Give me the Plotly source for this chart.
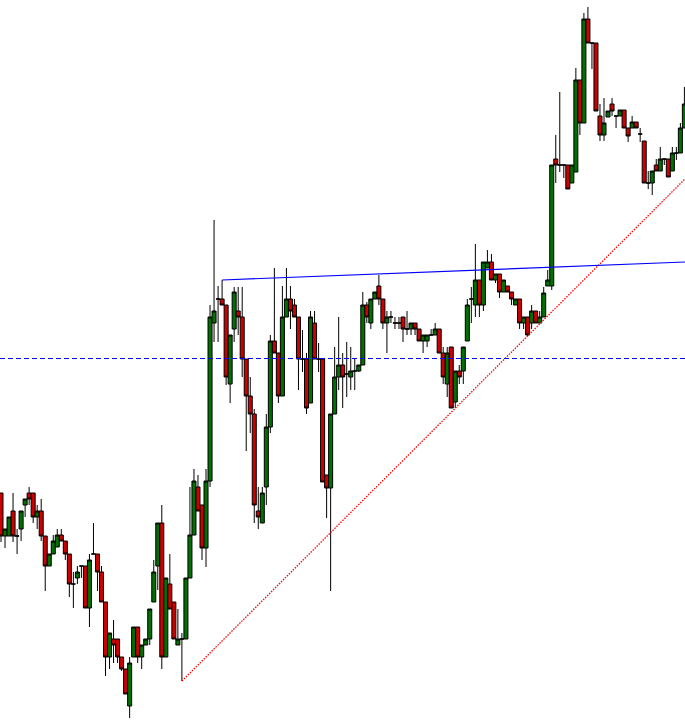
import plotly.graph_objects as go

# Candle index (one bar per period)
bar_index = list(range(171))

# OHLC values (price units)
opens = [232,189,189,214,189,196,220,232,232,208,214,189,159,171,178,190,184,171,141,147,
         159,159,117,171,171,153,123,68,86,86,68,56,19,68,98,68,80,86,123,159,
         202,68,141,123,80,86,86,147,190,238,220,177,244,402,426,426,420,341,396,414,
         408,366,329,311,214,202,238,298,384,372,329,408,426,420,408,366,366,322,402,366,
         366,250,237,311,348,360,351,348,354,354,360,420,402,426,439,426,402,408,402,402,
         408,396,396,402,396,384,384,390,390,396,372,341,378,323,354,354,384,426,420,445,
         420,457,463,445,451,433,439,433,420,426,402,408,402,414,402,408,439,439,566,560,
         560,560,542,553,645,602,706,682,682,609,590,608,621,609,609,615,597,597,603,591,
         584,542,542,560,554,566,566,554,572,572,597]
highs = [232,196,208,232,196,214,226,238,232,220,226,189,171,190,196,196,184,171,153,159,
         159,159,171,202,171,159,123,92,105,86,68,56,68,98,98,80,86,116,165,202,
         220,147,171,123,116,92,147,238,256,250,220,256,420,505,439,445,420,390,438,438,
         438,366,348,316,238,238,311,390,457,372,439,457,439,426,408,395,372,414,414,382,
         366,250,311,378,408,372,383,378,366,360,433,423,426,433,450,426,414,414,408,408,
         408,414,402,402,396,390,390,396,402,396,378,378,378,354,360,378,426,438,481,445,
         463,475,471,451,451,445,439,433,426,426,408,408,420,414,414,438,455,560,590,633,
         560,560,560,657,645,712,718,682,682,621,627,614,627,609,615,615,597,609,603,597,
         584,554,554,566,578,566,566,578,578,602,638]
lows = [183,177,189,183,171,184,208,220,202,196,184,134,159,171,178,184,165,128,117,141,
        147,117,98,171,134,123,49,56,62,62,54,31,7,68,62,56,80,80,123,135,
        56,68,116,86,80,44,86,147,190,214,165,158,238,383,383,420,340,322,383,390,
        348,274,292,202,196,202,220,292,372,322,329,408,396,408,335,353,311,322,366,353,
        243,207,134,311,335,317,328,335,335,353,360,402,396,426,420,396,372,402,396,396,
        383,390,390,390,384,372,378,390,390,372,341,328,317,317,341,341,384,402,408,408,
        414,457,445,442,427,433,433,420,420,396,396,389,396,402,402,408,439,435,542,553,
        547,536,542,553,590,602,682,656,614,584,584,608,609,597,609,597,583,597,597,583,
        542,536,530,554,554,560,548,554,565,572,597]
closes = [189,196,208,189,189,214,226,226,208,214,189,159,171,184,190,184,171,141,141,153,
          159,117,165,171,153,123,68,92,80,68,56,31,62,98,68,80,86,116,153,202,
          68,147,116,86,86,86,147,190,244,214,177,244,408,414,426,420,348,390,433,408,
          366,329,311,220,208,232,298,384,372,329,408,426,414,408,366,366,317,408,366,366,
          243,237,311,348,360,348,351,354,354,360,420,408,426,433,426,402,408,408,402,402,
          396,396,402,396,384,390,390,390,396,372,348,372,317,354,348,378,420,426,445,420,
          463,463,445,451,433,445,433,426,426,402,408,390,414,402,408,432,445,560,560,560,
          560,536,560,645,602,706,682,682,614,590,602,614,614,609,615,597,589,603,597,591,
          542,542,554,554,566,566,548,572,572,597,621]

# Support trend line: from the low of bar 45 through the low of bar 131
support_from_bar = 45
support_through_bar = 131
# Resistance line: from the high of bar 55 to this level at the right edge
resistance_from_bar = 55
resistance_end_level = 463
# Horizontal dashed level
level_value = 366.5

x_min, x_max = -0.249, 170.15

fig = go.Figure()

fig.add_trace(go.Candlestick(
    x=bar_index, open=opens, high=highs, low=lows, close=closes,
    increasing=dict(fillcolor="#007000", line=dict(color="#000000", width=1)),
    decreasing=dict(fillcolor="#CC0000", line=dict(color="#000000", width=1)),
    whiskerwidth=0, showlegend=False, hoverinfo="skip",
))

# support line (red dotted)
slope = (lows[support_through_bar] - lows[support_from_bar]) / (support_through_bar - support_from_bar)
sx = [support_from_bar, x_max]
sy = [lows[support_from_bar], lows[support_from_bar] + slope * (x_max - support_from_bar)]
fig.add_trace(go.Scatter(x=sx, y=sy, mode="lines",
                         line=dict(color="#FF0000", width=1.3, dash="1.5px,1.3px"),
                         showlegend=False, hoverinfo="skip"))

# resistance line (blue)
fig.add_trace(go.Scatter(x=[resistance_from_bar, x_max],
                         y=[highs[resistance_from_bar], resistance_end_level],
                         mode="lines", line=dict(color="#0000FF", width=1.2),
                         showlegend=False, hoverinfo="skip"))

# horizontal dashed level
fig.add_trace(go.Scatter(x=[x_min, x_max], y=[level_value, level_value],
                         mode="lines", line=dict(color="#0000FF", width=1, dash="5px,3px"),
                         showlegend=False, hoverinfo="skip"))

fig.update_layout(
    width=685, height=725,
    margin=dict(l=0, r=0, t=0, b=0),
    paper_bgcolor="white", plot_bgcolor="white",
    boxgap=0, boxgroupgap=0,
    xaxis=dict(visible=False, range=[x_min, x_max], rangeslider=dict(visible=False)),
    yaxis=dict(visible=False, range=[0, 725]),
    showlegend=False,
)

fig.write_html("out.html", config={"displayModeBar": False},
               post_script="document.body.style.margin='0px';document.body.style.overflow='hidden';")
